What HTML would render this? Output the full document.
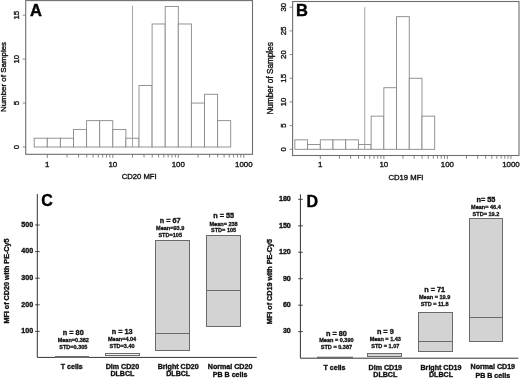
<!DOCTYPE html><html><head><meta charset="utf-8"><style>html,body{margin:0;padding:0;background:#fff;width:520px;height:378px;overflow:hidden}svg{display:block;filter:grayscale(1)}text{font-family:"Liberation Sans",sans-serif;stroke:#111;stroke-width:0.35px}.r{stroke-width:0.36px}.L{stroke:#000;stroke-width:0.4px}.s{stroke-width:0.3px}</style></head><body>
<svg width="520" height="378" viewBox="0 0 520 378"><g><rect width="520" height="378" fill="#fff"/>
<rect x="34.20" y="138.21" width="13.10" height="8.79" fill="#fff" stroke="#888" stroke-width="0.9"/>
<rect x="47.30" y="138.21" width="13.10" height="8.79" fill="#fff" stroke="#888" stroke-width="0.9"/>
<rect x="60.40" y="138.21" width="13.10" height="8.79" fill="#fff" stroke="#888" stroke-width="0.9"/>
<rect x="73.50" y="129.43" width="13.10" height="17.57" fill="#fff" stroke="#888" stroke-width="0.9"/>
<rect x="86.60" y="120.64" width="13.10" height="26.36" fill="#fff" stroke="#888" stroke-width="0.9"/>
<rect x="99.70" y="120.64" width="13.10" height="26.36" fill="#fff" stroke="#888" stroke-width="0.9"/>
<rect x="112.80" y="129.43" width="13.10" height="17.57" fill="#fff" stroke="#888" stroke-width="0.9"/>
<rect x="125.90" y="138.21" width="13.10" height="8.79" fill="#fff" stroke="#888" stroke-width="0.9"/>
<rect x="139.00" y="85.49" width="13.10" height="61.51" fill="#fff" stroke="#888" stroke-width="0.9"/>
<rect x="152.10" y="23.98" width="13.10" height="123.02" fill="#fff" stroke="#888" stroke-width="0.9"/>
<rect x="165.20" y="6.41" width="13.10" height="140.59" fill="#fff" stroke="#888" stroke-width="0.9"/>
<rect x="178.30" y="23.98" width="13.10" height="123.02" fill="#fff" stroke="#888" stroke-width="0.9"/>
<rect x="191.40" y="103.06" width="13.10" height="43.94" fill="#fff" stroke="#888" stroke-width="0.9"/>
<rect x="204.50" y="94.28" width="13.10" height="52.72" fill="#fff" stroke="#888" stroke-width="0.9"/>
<rect x="217.60" y="120.64" width="13.10" height="26.36" fill="#fff" stroke="#888" stroke-width="0.9"/>
<line x1="132.52" y1="5.60" x2="132.52" y2="147.00" stroke="#9a9a9a" stroke-width="0.9"/>
<rect x="25.7" y="0.6" width="226.8" height="153.70000000000002" fill="none" stroke="#6e6e6e" stroke-width="1.1"/>
<line x1="22.7" y1="147.00" x2="25.7" y2="147.00" stroke="#6e6e6e" stroke-width="0.8"/>
<text transform="translate(19.3,147.00) rotate(-90)" text-anchor="middle" class="r" font-size="7.9" fill="#111">0</text>
<line x1="22.7" y1="103.06" x2="25.7" y2="103.06" stroke="#6e6e6e" stroke-width="0.8"/>
<text transform="translate(19.3,103.06) rotate(-90)" text-anchor="middle" class="r" font-size="7.9" fill="#111">5</text>
<line x1="22.7" y1="59.13" x2="25.7" y2="59.13" stroke="#6e6e6e" stroke-width="0.8"/>
<text transform="translate(19.3,59.13) rotate(-90)" text-anchor="middle" class="r" font-size="7.9" fill="#111">10</text>
<line x1="22.7" y1="15.19" x2="25.7" y2="15.19" stroke="#6e6e6e" stroke-width="0.8"/>
<text transform="translate(19.3,15.19) rotate(-90)" text-anchor="middle" class="r" font-size="7.9" fill="#111">15</text>
<line x1="47.30" y1="154.3" x2="47.30" y2="157.9" stroke="#6e6e6e" stroke-width="0.85"/>
<line x1="67.02" y1="154.3" x2="67.02" y2="157.5" stroke="#6e6e6e" stroke-width="0.85"/>
<line x1="78.55" y1="154.3" x2="78.55" y2="157.5" stroke="#6e6e6e" stroke-width="0.85"/>
<line x1="86.73" y1="154.3" x2="86.73" y2="157.5" stroke="#6e6e6e" stroke-width="0.85"/>
<line x1="93.08" y1="154.3" x2="93.08" y2="157.5" stroke="#6e6e6e" stroke-width="0.85"/>
<line x1="98.27" y1="154.3" x2="98.27" y2="157.5" stroke="#6e6e6e" stroke-width="0.85"/>
<line x1="102.65" y1="154.3" x2="102.65" y2="157.5" stroke="#6e6e6e" stroke-width="0.85"/>
<line x1="106.45" y1="154.3" x2="106.45" y2="157.5" stroke="#6e6e6e" stroke-width="0.85"/>
<line x1="109.80" y1="154.3" x2="109.80" y2="157.5" stroke="#6e6e6e" stroke-width="0.85"/>
<line x1="112.80" y1="154.3" x2="112.80" y2="157.9" stroke="#6e6e6e" stroke-width="0.85"/>
<line x1="132.52" y1="154.3" x2="132.52" y2="157.5" stroke="#6e6e6e" stroke-width="0.85"/>
<line x1="144.05" y1="154.3" x2="144.05" y2="157.5" stroke="#6e6e6e" stroke-width="0.85"/>
<line x1="152.23" y1="154.3" x2="152.23" y2="157.5" stroke="#6e6e6e" stroke-width="0.85"/>
<line x1="158.58" y1="154.3" x2="158.58" y2="157.5" stroke="#6e6e6e" stroke-width="0.85"/>
<line x1="163.77" y1="154.3" x2="163.77" y2="157.5" stroke="#6e6e6e" stroke-width="0.85"/>
<line x1="168.15" y1="154.3" x2="168.15" y2="157.5" stroke="#6e6e6e" stroke-width="0.85"/>
<line x1="171.95" y1="154.3" x2="171.95" y2="157.5" stroke="#6e6e6e" stroke-width="0.85"/>
<line x1="175.30" y1="154.3" x2="175.30" y2="157.5" stroke="#6e6e6e" stroke-width="0.85"/>
<line x1="178.30" y1="154.3" x2="178.30" y2="157.9" stroke="#6e6e6e" stroke-width="0.85"/>
<line x1="198.02" y1="154.3" x2="198.02" y2="157.5" stroke="#6e6e6e" stroke-width="0.85"/>
<line x1="209.55" y1="154.3" x2="209.55" y2="157.5" stroke="#6e6e6e" stroke-width="0.85"/>
<line x1="217.73" y1="154.3" x2="217.73" y2="157.5" stroke="#6e6e6e" stroke-width="0.85"/>
<line x1="224.08" y1="154.3" x2="224.08" y2="157.5" stroke="#6e6e6e" stroke-width="0.85"/>
<line x1="229.27" y1="154.3" x2="229.27" y2="157.5" stroke="#6e6e6e" stroke-width="0.85"/>
<line x1="233.65" y1="154.3" x2="233.65" y2="157.5" stroke="#6e6e6e" stroke-width="0.85"/>
<line x1="237.45" y1="154.3" x2="237.45" y2="157.5" stroke="#6e6e6e" stroke-width="0.85"/>
<line x1="240.80" y1="154.3" x2="240.80" y2="157.5" stroke="#6e6e6e" stroke-width="0.85"/>
<line x1="243.80" y1="154.3" x2="243.80" y2="157.9" stroke="#6e6e6e" stroke-width="0.85"/>
<text x="47.30" y="166.7" text-anchor="middle" class="r" font-size="7.9" fill="#111">1</text>
<text x="112.80" y="166.7" text-anchor="middle" class="r" font-size="7.9" fill="#111">10</text>
<text x="178.30" y="166.7" text-anchor="middle" class="r" font-size="7.9" fill="#111">100</text>
<text x="243.80" y="166.7" text-anchor="middle" class="r" font-size="7.9" fill="#111">1000</text>
<text x="139.2" y="179.3" text-anchor="middle" class="r" font-size="7.7" fill="#111">CD20 MFI</text>
<text transform="translate(6.3,77) rotate(-90)" text-anchor="middle" class="r" font-size="7.95" fill="#111">Number of Samples</text>
<text x="30.1" y="16.2" class="L" font-size="16.5" font-weight="bold" fill="#000">A</text>
<rect x="294.88" y="139.83" width="12.71" height="9.47" fill="#fff" stroke="#888" stroke-width="0.9"/>
<rect x="307.59" y="144.56" width="12.71" height="4.74" fill="#fff" stroke="#888" stroke-width="0.9"/>
<rect x="320.30" y="139.83" width="12.71" height="9.47" fill="#fff" stroke="#888" stroke-width="0.9"/>
<rect x="333.01" y="139.83" width="12.71" height="9.47" fill="#fff" stroke="#888" stroke-width="0.9"/>
<rect x="345.72" y="139.83" width="12.71" height="9.47" fill="#fff" stroke="#888" stroke-width="0.9"/>
<rect x="358.43" y="144.56" width="12.71" height="4.74" fill="#fff" stroke="#888" stroke-width="0.9"/>
<rect x="371.14" y="116.14" width="12.71" height="33.16" fill="#fff" stroke="#888" stroke-width="0.9"/>
<rect x="383.85" y="87.72" width="12.71" height="61.58" fill="#fff" stroke="#888" stroke-width="0.9"/>
<rect x="396.56" y="16.66" width="12.71" height="132.64" fill="#fff" stroke="#888" stroke-width="0.9"/>
<rect x="409.27" y="78.25" width="12.71" height="71.06" fill="#fff" stroke="#888" stroke-width="0.9"/>
<rect x="421.98" y="116.14" width="12.71" height="33.16" fill="#fff" stroke="#888" stroke-width="0.9"/>
<line x1="364.72" y1="7.20" x2="364.72" y2="149.30" stroke="#9a9a9a" stroke-width="0.9"/>
<rect x="292.6" y="1.5" width="226.39999999999998" height="154.0" fill="none" stroke="#6e6e6e" stroke-width="1.1"/>
<line x1="289.6" y1="149.30" x2="292.6" y2="149.30" stroke="#6e6e6e" stroke-width="0.8"/>
<text transform="translate(286.1,149.30) rotate(-90)" text-anchor="middle" class="r" font-size="7.9" fill="#111">0</text>
<line x1="289.6" y1="125.62" x2="292.6" y2="125.62" stroke="#6e6e6e" stroke-width="0.8"/>
<text transform="translate(286.1,125.62) rotate(-90)" text-anchor="middle" class="r" font-size="7.9" fill="#111">5</text>
<line x1="289.6" y1="101.93" x2="292.6" y2="101.93" stroke="#6e6e6e" stroke-width="0.8"/>
<text transform="translate(286.1,101.93) rotate(-90)" text-anchor="middle" class="r" font-size="7.9" fill="#111">10</text>
<line x1="289.6" y1="78.25" x2="292.6" y2="78.25" stroke="#6e6e6e" stroke-width="0.8"/>
<text transform="translate(286.1,78.25) rotate(-90)" text-anchor="middle" class="r" font-size="7.9" fill="#111">15</text>
<line x1="289.6" y1="54.56" x2="292.6" y2="54.56" stroke="#6e6e6e" stroke-width="0.8"/>
<text transform="translate(286.1,54.56) rotate(-90)" text-anchor="middle" class="r" font-size="7.9" fill="#111">20</text>
<line x1="289.6" y1="30.88" x2="292.6" y2="30.88" stroke="#6e6e6e" stroke-width="0.8"/>
<text transform="translate(286.1,30.88) rotate(-90)" text-anchor="middle" class="r" font-size="7.9" fill="#111">25</text>
<line x1="289.6" y1="7.19" x2="292.6" y2="7.19" stroke="#6e6e6e" stroke-width="0.8"/>
<text transform="translate(286.1,7.19) rotate(-90)" text-anchor="middle" class="r" font-size="7.9" fill="#111">30</text>
<line x1="320.30" y1="155.5" x2="320.30" y2="159.1" stroke="#6e6e6e" stroke-width="0.85"/>
<line x1="339.43" y1="155.5" x2="339.43" y2="158.7" stroke="#6e6e6e" stroke-width="0.85"/>
<line x1="350.62" y1="155.5" x2="350.62" y2="158.7" stroke="#6e6e6e" stroke-width="0.85"/>
<line x1="358.56" y1="155.5" x2="358.56" y2="158.7" stroke="#6e6e6e" stroke-width="0.85"/>
<line x1="364.72" y1="155.5" x2="364.72" y2="158.7" stroke="#6e6e6e" stroke-width="0.85"/>
<line x1="369.75" y1="155.5" x2="369.75" y2="158.7" stroke="#6e6e6e" stroke-width="0.85"/>
<line x1="374.01" y1="155.5" x2="374.01" y2="158.7" stroke="#6e6e6e" stroke-width="0.85"/>
<line x1="377.69" y1="155.5" x2="377.69" y2="158.7" stroke="#6e6e6e" stroke-width="0.85"/>
<line x1="380.94" y1="155.5" x2="380.94" y2="158.7" stroke="#6e6e6e" stroke-width="0.85"/>
<line x1="383.85" y1="155.5" x2="383.85" y2="159.1" stroke="#6e6e6e" stroke-width="0.85"/>
<line x1="402.98" y1="155.5" x2="402.98" y2="158.7" stroke="#6e6e6e" stroke-width="0.85"/>
<line x1="414.17" y1="155.5" x2="414.17" y2="158.7" stroke="#6e6e6e" stroke-width="0.85"/>
<line x1="422.11" y1="155.5" x2="422.11" y2="158.7" stroke="#6e6e6e" stroke-width="0.85"/>
<line x1="428.27" y1="155.5" x2="428.27" y2="158.7" stroke="#6e6e6e" stroke-width="0.85"/>
<line x1="433.30" y1="155.5" x2="433.30" y2="158.7" stroke="#6e6e6e" stroke-width="0.85"/>
<line x1="437.56" y1="155.5" x2="437.56" y2="158.7" stroke="#6e6e6e" stroke-width="0.85"/>
<line x1="441.24" y1="155.5" x2="441.24" y2="158.7" stroke="#6e6e6e" stroke-width="0.85"/>
<line x1="444.49" y1="155.5" x2="444.49" y2="158.7" stroke="#6e6e6e" stroke-width="0.85"/>
<line x1="447.40" y1="155.5" x2="447.40" y2="159.1" stroke="#6e6e6e" stroke-width="0.85"/>
<line x1="466.53" y1="155.5" x2="466.53" y2="158.7" stroke="#6e6e6e" stroke-width="0.85"/>
<line x1="477.72" y1="155.5" x2="477.72" y2="158.7" stroke="#6e6e6e" stroke-width="0.85"/>
<line x1="485.66" y1="155.5" x2="485.66" y2="158.7" stroke="#6e6e6e" stroke-width="0.85"/>
<line x1="491.82" y1="155.5" x2="491.82" y2="158.7" stroke="#6e6e6e" stroke-width="0.85"/>
<line x1="496.85" y1="155.5" x2="496.85" y2="158.7" stroke="#6e6e6e" stroke-width="0.85"/>
<line x1="501.11" y1="155.5" x2="501.11" y2="158.7" stroke="#6e6e6e" stroke-width="0.85"/>
<line x1="504.79" y1="155.5" x2="504.79" y2="158.7" stroke="#6e6e6e" stroke-width="0.85"/>
<line x1="508.04" y1="155.5" x2="508.04" y2="158.7" stroke="#6e6e6e" stroke-width="0.85"/>
<line x1="510.95" y1="155.5" x2="510.95" y2="159.1" stroke="#6e6e6e" stroke-width="0.85"/>
<text x="320.30" y="167.4" text-anchor="middle" class="r" font-size="7.9" fill="#111">1</text>
<text x="383.85" y="167.4" text-anchor="middle" class="r" font-size="7.9" fill="#111">10</text>
<text x="447.40" y="167.4" text-anchor="middle" class="r" font-size="7.9" fill="#111">100</text>
<text x="510.95" y="167.4" text-anchor="middle" class="r" font-size="7.9" fill="#111">1000</text>
<text x="406" y="180.3" text-anchor="middle" class="r" font-size="7.7" fill="#111">CD19 MFI</text>
<text transform="translate(273.0,78.4) rotate(-90)" text-anchor="middle" class="r" font-size="8.2" fill="#111">Number of Samples</text>
<text x="296" y="15.8" class="L" font-size="16.5" font-weight="bold" fill="#000">B</text>
<line x1="37.3" y1="194" x2="37.3" y2="357.4" stroke="#333" stroke-width="1"/>
<line x1="37.3" y1="357.4" x2="256.8" y2="357.4" stroke="#333" stroke-width="1"/>
<line x1="35.099999999999994" y1="331.40" x2="39.699999999999996" y2="331.40" stroke="#333" stroke-width="0.9"/>
<text x="33.1" y="333.20" text-anchor="end" font-size="7.1" font-weight="bold" fill="#111">100</text>
<line x1="35.099999999999994" y1="304.80" x2="39.699999999999996" y2="304.80" stroke="#333" stroke-width="0.9"/>
<text x="33.1" y="306.60" text-anchor="end" font-size="7.1" font-weight="bold" fill="#111">200</text>
<line x1="35.099999999999994" y1="278.20" x2="39.699999999999996" y2="278.20" stroke="#333" stroke-width="0.9"/>
<text x="33.1" y="280.00" text-anchor="end" font-size="7.1" font-weight="bold" fill="#111">300</text>
<line x1="35.099999999999994" y1="251.60" x2="39.699999999999996" y2="251.60" stroke="#333" stroke-width="0.9"/>
<text x="33.1" y="253.40" text-anchor="end" font-size="7.1" font-weight="bold" fill="#111">400</text>
<line x1="35.099999999999994" y1="225.00" x2="39.699999999999996" y2="225.00" stroke="#333" stroke-width="0.9"/>
<text x="33.1" y="226.80" text-anchor="end" font-size="7.1" font-weight="bold" fill="#111">500</text>
<text x="41.2" y="206.1" class="L" font-size="16" font-weight="bold" fill="#000">C</text>
<text transform="translate(9.3,281) rotate(-90)" text-anchor="middle" font-size="7.2" font-weight="bold" fill="#111">MFI of CD20 with PE-Cy5</text>
<rect x="55.5" y="356.5" width="33.00" height="0.90" fill="#d3d3d3" stroke="#6a6a6a" stroke-width="1"/>
<rect x="105.5" y="353.5" width="34.00" height="2.00" fill="#f2f2f2" stroke="#6a6a6a" stroke-width="1"/>
<rect x="155.5" y="240.5" width="34.00" height="110.00" fill="#d3d3d3" stroke="#6a6a6a" stroke-width="1"/>
<line x1="155.5" y1="333.5" x2="189.5" y2="333.5" stroke="#6a6a6a" stroke-width="1"/>
<rect x="206.5" y="235.5" width="34.00" height="91.00" fill="#d3d3d3" stroke="#6a6a6a" stroke-width="1"/>
<line x1="206.5" y1="290.5" x2="240.5" y2="290.5" stroke="#6a6a6a" stroke-width="1"/>
<text x="73.3" y="335.0" text-anchor="middle" font-size="7.3" font-weight="bold" fill="#111">n = 80</text>
<text x="73.3" y="341.7" text-anchor="middle" class="s" font-size="5.55" font-weight="bold" fill="#111">Mean=0.382</text>
<text x="73.3" y="348.5" text-anchor="middle" class="s" font-size="5.55" font-weight="bold" fill="#111">STD=0.305</text>
<text x="71.75" y="368.7" text-anchor="middle" font-size="7.1" font-weight="bold" fill="#111">T cells</text>
<text x="122.1" y="333.7" text-anchor="middle" font-size="7.3" font-weight="bold" fill="#111">n = 13</text>
<text x="122.1" y="341.1" text-anchor="middle" class="s" font-size="5.55" font-weight="bold" fill="#111">Mean=4.04</text>
<text x="122.1" y="347.6" text-anchor="middle" class="s" font-size="5.55" font-weight="bold" fill="#111">STD=3.40</text>
<text x="122.4" y="369.0" text-anchor="middle" font-size="7.1" font-weight="bold" fill="#111">Dim CD20</text>
<text x="122.4" y="376.2" text-anchor="middle" font-size="7.1" font-weight="bold" fill="#111">DLBCL</text>
<text x="170.2" y="223.0" text-anchor="middle" font-size="7.3" font-weight="bold" fill="#111">n = 67</text>
<text x="170.2" y="230.3" text-anchor="middle" class="s" font-size="5.55" font-weight="bold" fill="#111">Mean=93.9</text>
<text x="170.2" y="237.1" text-anchor="middle" class="s" font-size="5.55" font-weight="bold" fill="#111">STD=105</text>
<text x="178.2" y="369.0" text-anchor="middle" font-size="7.1" font-weight="bold" fill="#111">Bright CD20</text>
<text x="178.2" y="376.2" text-anchor="middle" font-size="7.1" font-weight="bold" fill="#111">DLBCL</text>
<text x="223.6" y="218.4" text-anchor="middle" font-size="7.3" font-weight="bold" fill="#111">n = 55</text>
<text x="223.6" y="225.5" text-anchor="middle" class="s" font-size="5.55" font-weight="bold" fill="#111">Mean= 238</text>
<text x="223.6" y="232.3" text-anchor="middle" class="s" font-size="5.55" font-weight="bold" fill="#111">STD= 105</text>
<text x="230.1" y="368.8" text-anchor="middle" font-size="7.1" font-weight="bold" fill="#111">Normal CD20</text>
<text x="230.1" y="376.5" text-anchor="middle" font-size="7.1" font-weight="bold" fill="#111">PB B cells</text>
<line x1="300.4" y1="194.3" x2="300.4" y2="358.2" stroke="#333" stroke-width="1"/>
<line x1="300.4" y1="358.2" x2="518.3" y2="358.2" stroke="#333" stroke-width="1"/>
<line x1="298.2" y1="331.64" x2="302.79999999999995" y2="331.64" stroke="#333" stroke-width="0.9"/>
<text x="290.8" y="333.44" text-anchor="end" font-size="7.1" font-weight="bold" fill="#111">30</text>
<line x1="298.2" y1="305.18" x2="302.79999999999995" y2="305.18" stroke="#333" stroke-width="0.9"/>
<text x="290.8" y="306.98" text-anchor="end" font-size="7.1" font-weight="bold" fill="#111">60</text>
<line x1="298.2" y1="278.72" x2="302.79999999999995" y2="278.72" stroke="#333" stroke-width="0.9"/>
<text x="290.8" y="280.52" text-anchor="end" font-size="7.1" font-weight="bold" fill="#111">90</text>
<line x1="298.2" y1="252.26" x2="302.79999999999995" y2="252.26" stroke="#333" stroke-width="0.9"/>
<text x="290.8" y="254.06" text-anchor="end" font-size="7.1" font-weight="bold" fill="#111">120</text>
<line x1="298.2" y1="225.80" x2="302.79999999999995" y2="225.80" stroke="#333" stroke-width="0.9"/>
<text x="290.8" y="227.60" text-anchor="end" font-size="7.1" font-weight="bold" fill="#111">150</text>
<line x1="298.2" y1="199.34" x2="302.79999999999995" y2="199.34" stroke="#333" stroke-width="0.9"/>
<text x="290.8" y="201.14" text-anchor="end" font-size="7.1" font-weight="bold" fill="#111">180</text>
<text x="306.6" y="206.8" class="L" font-size="16" font-weight="bold" fill="#000">D</text>
<text transform="translate(272,281.6) rotate(-90)" text-anchor="middle" font-size="7.2" font-weight="bold" fill="#111">MFI of CD19 with PE-Cy5</text>
<rect x="317.5" y="357.2" width="35.00" height="0.80" fill="#d3d3d3" stroke="#6a6a6a" stroke-width="1"/>
<rect x="367.5" y="353.5" width="34.00" height="3.00" fill="#d3d3d3" stroke="#6a6a6a" stroke-width="1"/>
<rect x="418.5" y="312.5" width="34.00" height="39.00" fill="#d3d3d3" stroke="#6a6a6a" stroke-width="1"/>
<line x1="418.5" y1="341.5" x2="452.5" y2="341.5" stroke="#6a6a6a" stroke-width="1"/>
<rect x="469.5" y="218.5" width="33.00" height="123.00" fill="#d3d3d3" stroke="#6a6a6a" stroke-width="1"/>
<line x1="469.5" y1="317.5" x2="502.5" y2="317.5" stroke="#6a6a6a" stroke-width="1"/>
<text x="336.4" y="335.5" text-anchor="middle" font-size="7.3" font-weight="bold" fill="#111">n = 80</text>
<text x="336.4" y="342.1" text-anchor="middle" class="s" font-size="5.55" font-weight="bold" fill="#111">Mean = 0.390</text>
<text x="336.4" y="348.9" text-anchor="middle" class="s" font-size="5.55" font-weight="bold" fill="#111">STD = 0.387</text>
<text x="334.5" y="369.8" text-anchor="middle" font-size="7.1" font-weight="bold" fill="#111">T cells</text>
<text x="385.3" y="334.0" text-anchor="middle" font-size="7.3" font-weight="bold" fill="#111">n = 9</text>
<text x="385.3" y="341.4" text-anchor="middle" class="s" font-size="5.55" font-weight="bold" fill="#111">Mean = 1.43</text>
<text x="385.3" y="348.4" text-anchor="middle" class="s" font-size="5.55" font-weight="bold" fill="#111">STD = 1.07</text>
<text x="385.3" y="369.5" text-anchor="middle" font-size="7.1" font-weight="bold" fill="#111">Dim CD19</text>
<text x="385.3" y="377.0" text-anchor="middle" font-size="7.1" font-weight="bold" fill="#111">DLBCL</text>
<text x="434.6" y="292.1" text-anchor="middle" font-size="7.3" font-weight="bold" fill="#111">n = 71</text>
<text x="434.6" y="299.3" text-anchor="middle" class="s" font-size="5.55" font-weight="bold" fill="#111">Mean = 19.9</text>
<text x="434.6" y="305.9" text-anchor="middle" class="s" font-size="5.55" font-weight="bold" fill="#111">STD = 11.8</text>
<text x="441.0" y="369.5" text-anchor="middle" font-size="7.1" font-weight="bold" fill="#111">Bright CD19</text>
<text x="441.0" y="377.0" text-anchor="middle" font-size="7.1" font-weight="bold" fill="#111">DLBCL</text>
<text x="485.9" y="201.8" text-anchor="middle" font-size="7.3" font-weight="bold" fill="#111">n= 55</text>
<text x="485.9" y="209.3" text-anchor="middle" class="s" font-size="5.55" font-weight="bold" fill="#111">Mean= 46.4</text>
<text x="485.9" y="216.1" text-anchor="middle" class="s" font-size="5.55" font-weight="bold" fill="#111">STD= 19.2</text>
<text x="492.8" y="369.2" text-anchor="middle" font-size="7.1" font-weight="bold" fill="#111">Normal CD19</text>
<text x="492.8" y="377.5" text-anchor="middle" font-size="7.1" font-weight="bold" fill="#111">PB B cells</text>
</g></svg></body></html>
